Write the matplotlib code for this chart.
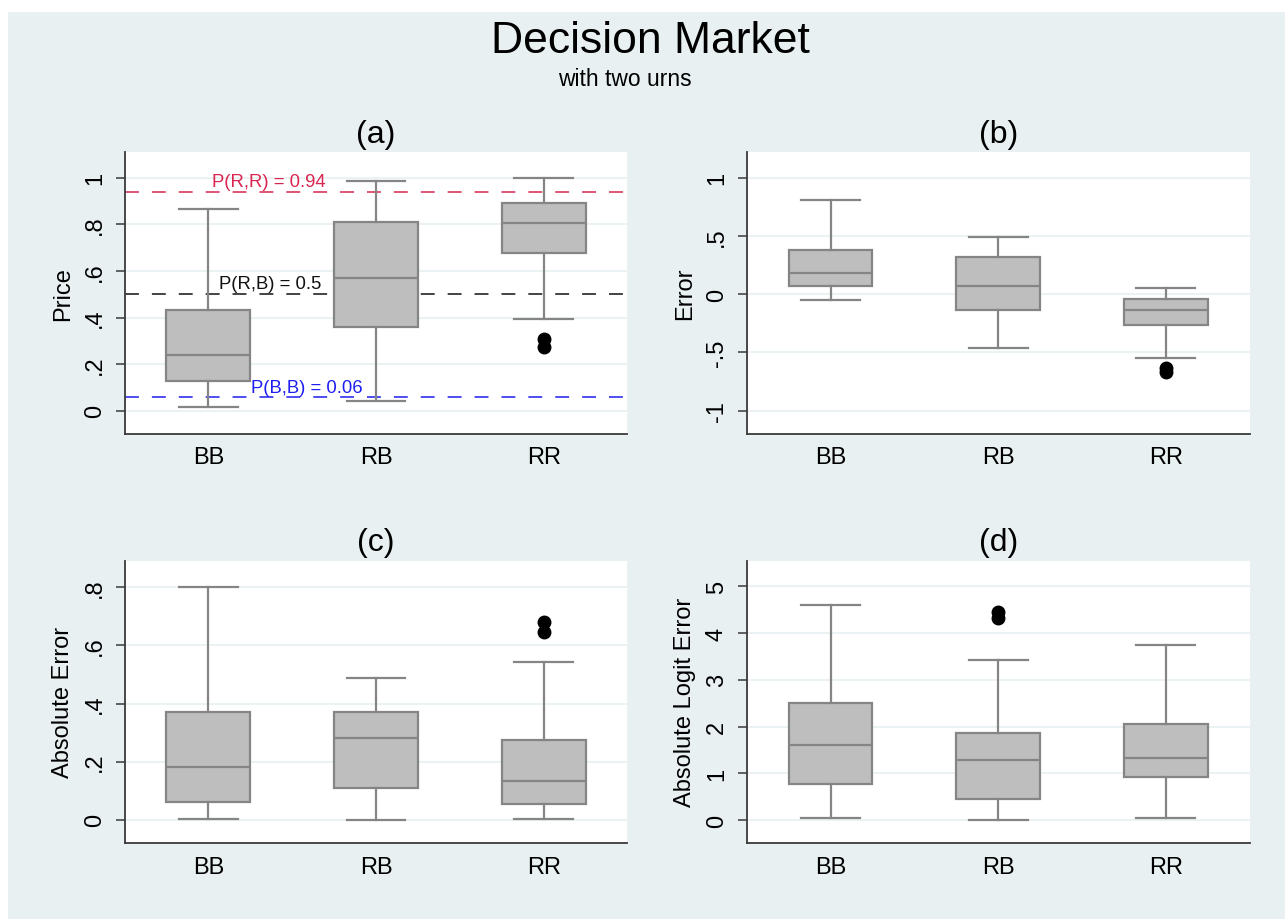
import matplotlib
matplotlib.use("Agg")
import matplotlib.pyplot as plt
from matplotlib.patches import Rectangle

plt.rcParams['font.family'] = ['Liberation Sans', 'DejaVu Sans']

# groups on the x axis
groups = ['BB', 'RB', 'RR']

# box summaries per group: lower whisker, q1, median, q3, upper whisker
price_stats = [[0.015, 0.126, 0.241, 0.431, 0.866],
               [0.040, 0.361, 0.572, 0.809, 0.988],
               [0.394, 0.676, 0.807, 0.893, 0.998]]
price_out = [[], [], [0.310, 0.274]]

error_stats = [[-0.048, 0.071, 0.181, 0.381, 0.807],
               [-0.461, -0.135, 0.074, 0.319, 0.490],
               [-0.545, -0.261, -0.131, -0.038, 0.058]]
error_out = [[], [], [-0.630, -0.665]]

abs_stats = [[0.002, 0.060, 0.181, 0.370, 0.802],
             [0.000, 0.111, 0.283, 0.370, 0.487],
             [0.002, 0.053, 0.132, 0.274, 0.544]]
abs_out = [[], [], [0.680, 0.645]]

logit_stats = [[0.043, 0.770, 1.605, 2.500, 4.600],
               [0.000, 0.456, 1.290, 1.860, 3.420],
               [0.043, 0.927, 1.320, 2.054, 3.745]]
logit_out = [[], [4.46, 4.32], []]

# theoretical prices for panel (a)
ref_vals = [0.94, 0.5, 0.06]
ref_text = ['P(R,R) = 0.94', 'P(R,B) = 0.5', 'P(B,B) = 0.06']
ref_colors = ['#D92550', '#111111', '#1E1EF0']
ref_text_x = [1.36, 1.37, 1.59]
ref_text_y = [0.967, 0.526, 0.079]

bg = '#E8F0F2'
box_fill = '#BEBEBE'
box_edge = '#858585'

fig = plt.figure(figsize=(12.85, 9.2), dpi=100, facecolor='white')
fig.patches.append(Rectangle((8 / 1285, 0), 1, 1 - 13 / 920, transform=fig.transFigure,
                             facecolor=bg, edgecolor='none', zorder=-10))

fig.text(650 / 1285, 1 - 53 / 920, 'Decision Market', fontsize=32, ha='center', va='baseline')
fig.text(625 / 1285, 1 - 86 / 920, 'with two urns', fontsize=16.5, ha='center', va='baseline')

panels = [
    ('(a)', 'Price', price_stats, price_out, [0, .2, .4, .6, .8, 1],
     ['0', '.2', '.4', '.6', '.8', '1'], (-0.1, 1.11), [0.0969, 0.5272, 0.3914, 0.3062]),
    ('(b)', 'Error', error_stats, error_out, [-1, -.5, 0, .5, 1],
     ['-1', '-.5', '0', '.5', '1'], (-1.2, 1.22), [0.5811, 0.5272, 0.3914, 0.3062]),
    ('(c)', 'Absolute Error', abs_stats, abs_out, [0, .2, .4, .6, .8],
     ['0', '.2', '.4', '.6', '.8'], (-0.08, 0.892), [0.0969, 0.0826, 0.3914, 0.3069]),
    ('(d)', 'Absolute Logit Error', logit_stats, logit_out, [0, 1, 2, 3, 4, 5],
     ['0', '1', '2', '3', '4', '5'], (-0.49, 5.55), [0.5811, 0.0826, 0.3914, 0.3069]),
]

axes = []
for title, ylab, stats, outs, yt, ytl, ylim, rect in panels:
    ax = fig.add_axes(rect)
    ax.set_facecolor('white')
    bxp_stats = []
    for name, s, fl in zip(groups, stats, outs):
        bxp_stats.append(dict(label=name, whislo=s[0], q1=s[1], med=s[2], q3=s[3],
                              whishi=s[4], fliers=fl))
    ax.bxp(bxp_stats, positions=[1, 2, 3], widths=0.5, capwidths=0.35,
           patch_artist=True,
           boxprops=dict(facecolor=box_fill, edgecolor=box_edge, linewidth=1.6),
           medianprops=dict(color=box_edge, linewidth=1.6),
           whiskerprops=dict(color=box_edge, linewidth=1.6),
           capprops=dict(color=box_edge, linewidth=1.6),
           flierprops=dict(marker='o', markerfacecolor='black', markeredgecolor='black',
                           markersize=9))
    ax.set_xlim(0.5, 3.5)
    ax.set_ylim(*ylim)
    ax.set_yticks(yt)
    ax.set_yticklabels(ytl)
    ax.yaxis.grid(True, color='#EAF2F3', linewidth=1.4)
    ax.set_axisbelow(True)
    for side in ['top', 'right']:
        ax.spines[side].set_visible(False)
    for side in ['left', 'bottom']:
        ax.spines[side].set_color('#3A3A3A')
        ax.spines[side].set_linewidth(1.3)
    ax.tick_params(axis='y', length=6.5, width=1.1, color='#3A3A3A', labelsize=17,
                   labelrotation=90, pad=7)
    ax.tick_params(axis='x', length=0, labelsize=17, pad=9)
    plt.setp(ax.get_yticklabels(), va='center')
    ax.set_ylabel(ylab, fontsize=17, labelpad=7)
    ax.set_title(title, fontsize=23, pad=7.4)
    axes.append(ax)

# reference lines with their labels
ax = axes[0]
for v, t, c, tx, ty in zip(ref_vals, ref_text, ref_colors, ref_text_x, ref_text_y):
    ax.axhline(v, color=c, linewidth=1.1, dashes=(9.1, 8.5), zorder=1.5)
    ax.text(tx, ty, t, color=c, fontsize=13.3, ha='center', va='baseline', zorder=4)

fig.savefig('out.png', dpi=100, facecolor=fig.get_facecolor())
